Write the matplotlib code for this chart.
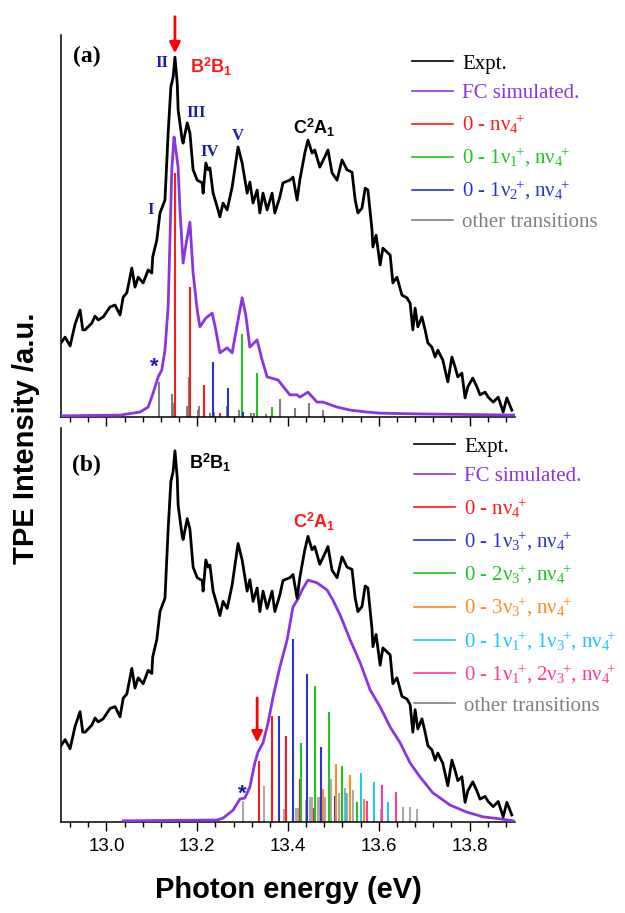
import matplotlib
matplotlib.use("Agg")
import matplotlib.pyplot as plt
from matplotlib.lines import Line2D
from matplotlib.ticker import MultipleLocator, FormatStrFormatter

plt.rcParams['mathtext.fontset'] = 'custom'
plt.rcParams['mathtext.rm'] = 'Liberation Serif'
plt.rcParams['mathtext.it'] = 'Liberation Serif:italic'
plt.rcParams['mathtext.bf'] = 'Liberation Sans:bold'

# ---------------- data (photon energy in eV, intensity in % of axis height) -------------
expt_E = [12.900, 12.909, 12.920, 12.931, 12.942, 12.948, 12.953, 12.968, 12.975, 12.982,
          12.993, 13.008, 13.019, 13.030, 13.037, 13.045, 13.056, 13.063, 13.070, 13.081,
          13.092, 13.100, 13.102, 13.111, 13.118, 13.129,
          13.136, 13.142, 13.147, 13.151, 13.156, 13.158, 13.167, 13.169, 13.178, 13.184,
          13.191, 13.200, 13.211, 13.213, 13.219, 13.224, 13.228, 13.235, 13.244, 13.250,
          13.257, 13.266, 13.277, 13.290, 13.299, 13.310, 13.316, 13.323, 13.332, 13.338,
          13.345, 13.354, 13.365, 13.371, 13.382, 13.389, 13.404, 13.411, 13.420, 13.426,
          13.437, 13.444, 13.453, 13.459, 13.470, 13.481, 13.488, 13.497, 13.508, 13.519,
          13.530, 13.541, 13.548, 13.554, 13.563, 13.570, 13.576, 13.585, 13.587, 13.594,
          13.603, 13.609, 13.625, 13.631, 13.640, 13.651, 13.662, 13.669, 13.675, 13.680,
          13.686, 13.695, 13.702, 13.708, 13.717, 13.724, 13.730, 13.741, 13.752, 13.761,
          13.768, 13.774, 13.783, 13.790, 13.796, 13.807, 13.816, 13.823, 13.834, 13.841,
          13.852, 13.863, 13.874, 13.882, 13.893]
expt_I = [19.4, 20.9, 18.6, 24.3, 28.0, 22.8, 22.8, 24.6, 26.4, 25.4,
          26.2, 28.8, 29.3, 26.7, 31.4, 32.5, 39.0, 34.0, 36.6, 35.1,
          38.5, 37.7, 41.9, 46.3, 53.4, 56.8,
          74.3, 86.4, 89.0, 94.2, 87.4, 80.4, 72.5, 71.7, 77.0, 74.3,
          64.7, 62.0, 61.3, 58.6, 66.5, 64.7, 65.2, 58.6, 55.0, 52.4,
          56.0, 54.2, 60.2, 70.7, 66.5, 58.6, 61.5, 56.0, 59.4, 53.4,
          58.6, 54.2, 58.6, 53.4, 57.6, 61.3, 62.0, 62.8, 56.8, 62.0,
          69.1, 72.5, 69.1, 69.9, 65.4, 68.1, 69.9, 63.9, 62.0, 67.3,
          64.7, 64.1, 56.8, 53.4, 54.7, 59.9, 59.4, 49.0, 44.5, 47.6,
          39.8, 44.2, 42.4, 35.1, 36.6, 31.9, 31.2, 29.8, 22.8, 28.5,
          23.6, 26.2, 22.8, 19.4, 18.3, 15.7, 17.5, 14.9, 9.2, 15.7,
          13.1, 10.5, 11.5, 5.0, 7.9, 10.2, 7.9, 5.8, 6.5, 5.2,
          3.9, 5.2, 1.3, 5.0, 1.8]

# panel (a): FC simulation of the B2B1 band
fcA_E = [12.900, 13.030, 13.074, 13.092, 13.103, 13.114, 13.122, 13.129, 13.136, 13.140,
         13.144, 13.149, 13.153, 13.158, 13.162, 13.169, 13.175, 13.184, 13.191, 13.200,
         13.206, 13.219, 13.233, 13.241, 13.250, 13.266, 13.277, 13.288, 13.299, 13.307,
         13.316, 13.332, 13.343, 13.354, 13.378, 13.404, 13.420, 13.426, 13.444, 13.464,
         13.477, 13.508, 13.537, 13.574, 13.603, 13.691, 13.900]
fcA_I = [0.3, 0.5, 1.3, 2.6, 6.3, 10.5, 12.3, 17.5, 28.8, 46.3,
         64.7, 73.3, 69.9, 65.4, 54.2, 40.3, 45.0, 51.0, 37.7, 28.0,
         23.6, 25.9, 27.2, 22.8, 16.8, 18.1, 16.8, 24.1, 31.2, 26.7,
         18.3, 20.2, 14.9, 10.5, 9.7, 5.8, 5.8, 5.2, 6.5, 3.9,
         3.9, 2.6, 1.8, 1.3, 1.0, 0.8, 0.5]

a_red_E = [13.151, 13.184, 13.215, 13.250]
a_red_I = [63.9, 34.0, 8.4, 1.0]
a_green_E = [13.299, 13.332, 13.365]
a_green_I = [21.7, 11.5, 2.6]
a_blue_E = [13.235, 13.268, 13.301]
a_blue_I = [14.4, 7.6, 1.3]
a_other_E = [13.116, 13.144, 13.149, 13.178, 13.182, 13.202, 13.204, 13.215, 13.228, 13.237,
             13.266, 13.292, 13.319, 13.325, 13.332, 13.352, 13.382, 13.415, 13.446, 13.477]
a_other_I = [9.2, 6.0, 3.7, 2.9, 10.5, 1.8, 2.9, 5.0, 1.0, 1.3,
             2.9, 1.8, 1.0, 1.0, 3.1, 0.8, 4.7, 2.4, 3.7, 1.8]

# panel (b): FC simulation of the C2A1 band
fcB_E = [13.037, 13.244, 13.257, 13.279, 13.294, 13.305, 13.316, 13.327, 13.334, 13.345,
         13.356, 13.367, 13.382, 13.398, 13.411, 13.422, 13.431, 13.444, 13.464, 13.486,
         13.499, 13.515, 13.537, 13.559, 13.581, 13.603, 13.625, 13.647, 13.669, 13.691,
         13.719, 13.757, 13.794, 13.830, 13.867, 13.896]
fcB_I = [0.3, 0.5, 1.0, 3.0, 5.8, 6.1, 8.9, 15.0, 17.8, 20.1,
         25.1, 31.7, 39.3, 46.2, 54.6, 56.6, 58.9, 61.4, 60.7, 58.9,
         56.3, 52.5, 46.2, 40.4, 33.5, 29.2, 24.1, 20.1, 15.0, 11.4,
         7.4, 4.3, 2.5, 1.3, 0.8, 0.3]

b_red_E = [13.336, 13.365, 13.396, 13.426, 13.457]
b_red_I = [15.5, 26.9, 21.8, 10.9, 3.6]
b_blue_E = [13.380, 13.411, 13.442, 13.473, 13.504]
b_blue_I = [26.9, 46.4, 37.6, 19.0, 6.6]
b_green_E = [13.429, 13.459, 13.490, 13.520, 13.551]
b_green_I = [20.1, 34.5, 27.9, 14.2, 5.1]
b_orange_E = [13.477, 13.506, 13.537, 13.567]
b_orange_I = [8.4, 14.7, 11.9, 5.8]
b_cyan_E = [13.528, 13.561, 13.589, 13.620]
b_cyan_I = [7.4, 12.4, 10.2, 5.1]
b_pink_E = [13.574, 13.607, 13.638]
b_pink_I = [5.3, 9.4, 7.6]
b_other_E = [13.301, 13.347, 13.391, 13.396, 13.418, 13.422, 13.440, 13.448, 13.453, 13.466,
             13.470, 13.481, 13.495, 13.512, 13.526, 13.530, 13.543, 13.589, 13.605, 13.653,
             13.669, 13.684]
b_other_I = [5.3, 9.1, 3.3, 6.9, 3.6, 3.6, 5.6, 6.3, 6.3, 6.3,
             6.3, 6.3, 10.9, 7.4, 8.6, 7.4, 8.1, 3.3, 3.3, 3.8,
             3.8, 3.3]

xticks = [13.0, 13.2, 13.4, 13.6, 13.8]

# ---------------- styling ----------------
C_BLACK = 'black'
C_FC = '#8b35e0'
C_RED = '#ff1a1a'
C_GREEN = '#22c322'
C_BLUE = '#2a35cc'
C_ORANGE = '#ff8a1f'
C_CYAN = '#1ec8f0'
C_PINK = '#ff3c9a'
C_GRAY_A = '#808080'
C_GRAY_B = '#aaaaaa'
C_NUM = '#1c1cb4'

SERIF = 'Liberation Serif'
SANS = 'Liberation Sans'

fig = plt.figure(figsize=(6.25, 9.13), dpi=100)
W, H = 625.0, 913.0
ax1 = fig.add_axes([61 / W, 1 - 417 / H, 454 / W, 382 / H])
ax2 = fig.add_axes([61 / W, 1 - 822 / H, 454 / W, 394 / H])

for ax in (ax1, ax2):
    ax.set_xlim(12.9, 13.9)
    ax.set_ylim(0, 100)
    ax.spines['top'].set_visible(False)
    ax.spines['right'].set_visible(False)
    ax.spines['left'].set_linewidth(1.1)
    ax.spines['bottom'].set_linewidth(1.1)
    ax.set_yticks([])
    ax.set_xticks(xticks)
    ax.xaxis.set_minor_locator(MultipleLocator(0.04))
    ax.xaxis.set_major_formatter(FormatStrFormatter('%.1f'))
    ax.tick_params(axis='x', which='major', direction='out', length=6.5, width=1.0,
                   labelsize=13.5, pad=5)
    ax.tick_params(axis='x', which='minor', direction='out', length=3.5, width=1.0)
    for lab in ax.get_xticklabels():
        lab.set_fontfamily(SANS)
ax1.tick_params(axis='x', labelbottom=False)

# ---- panel (a)
ax1.vlines(a_other_E, 0, a_other_I, colors=C_GRAY_A, lw=1.5, zorder=2)
ax1.vlines(a_red_E, 0, a_red_I, colors=C_RED, lw=1.5, zorder=2)
ax1.vlines(a_green_E, 0, a_green_I, colors=C_GREEN, lw=1.5, zorder=2)
ax1.vlines(a_blue_E, 0, a_blue_I, colors=C_BLUE, lw=1.5, zorder=2)
ax1.plot(fcA_E, fcA_I, color=C_FC, lw=2.0, zorder=3)
ax1.plot(expt_E, expt_I, color=C_BLACK, lw=2.0, zorder=4)

# ---- panel (b)
ax2.vlines(b_other_E, 0, b_other_I, colors=C_GRAY_B, lw=1.5, zorder=2)
ax2.vlines(b_red_E, 0, b_red_I, colors=C_RED, lw=1.5, zorder=2)
ax2.vlines(b_blue_E, 0, b_blue_I, colors=C_BLUE, lw=1.5, zorder=2)
ax2.vlines(b_green_E, 0, b_green_I, colors=C_GREEN, lw=1.5, zorder=2)
ax2.vlines(b_orange_E, 0, b_orange_I, colors=C_ORANGE, lw=1.5, zorder=2)
ax2.vlines(b_cyan_E, 0, b_cyan_I, colors=C_CYAN, lw=1.5, zorder=2)
ax2.vlines(b_pink_E, 0, b_pink_I, colors=C_PINK, lw=1.5, zorder=2)
ax2.plot(fcB_E, fcB_I, color=C_FC, lw=2.0, zorder=3)
ax2.plot(expt_E, expt_I, color=C_BLACK, lw=2.0, zorder=4)

# ---- annotations panel (a)
ax1.text(12.957, 94.5, '(a)', family=SERIF, weight='bold', fontsize=17,
         ha='center', va='center')
ax1.text(13.184, 91.6, r'B$^{\mathbf{2}}$B$_{\mathbf{1}}$', family=SANS, weight='bold',
         fontsize=13, color=C_RED, ha='left', va='center')
ax1.text(13.411, 75.7, r'C$^{\mathbf{2}}$A$_{\mathbf{1}}$', family=SANS, weight='bold',
         fontsize=13, color='black', ha='left', va='center')
for lab, e, y in [('I', 13.098, 54.2), ('II', 13.122, 92.7), ('III', 13.197, 79.6),
                  ('IV', 13.228, 69.4), ('V', 13.290, 73.6)]:
    ax1.text(e, y, lab, family=SERIF, weight='bold', fontsize=12, color=C_NUM,
             ha='center', va='center')
ax1.text(13.105, 13.0, '*', family=SANS, weight='bold', fontsize=16, color=C_NUM,
         ha='center', va='center')
ax1.annotate('', xy=(13.151, 94.5), xytext=(13.151, 105.5),
             arrowprops=dict(arrowstyle='-|>', color='red', lw=2, mutation_scale=16),
             annotation_clip=False)

# ---- annotations panel (b)
ax2.text(12.957, 90.6, '(b)', family=SERIF, weight='bold', fontsize=17,
         ha='center', va='center')
ax2.text(13.182, 91.1, r'B$^{\mathbf{2}}$B$_{\mathbf{1}}$', family=SANS, weight='bold',
         fontsize=13, color='black', ha='left', va='center')
ax2.text(13.411, 76.1, r'C$^{\mathbf{2}}$A$_{\mathbf{1}}$', family=SANS, weight='bold',
         fontsize=13, color=C_RED, ha='left', va='center')
ax2.text(13.299, 7.0, '*', family=SANS, weight='bold', fontsize=16, color=C_NUM,
         ha='center', va='center')
ax2.annotate('', xy=(13.332, 19.5), xytext=(13.332, 32.2),
             arrowprops=dict(arrowstyle='-|>', color='red', lw=2, mutation_scale=16))

# ---- legends
def make_legend(ax, entries, anchor, spacing):
    handles = [Line2D([], [], color=c, lw=1.2) for _, c in entries]
    labels = [l for l, _ in entries]
    leg = ax.legend(handles, labels, loc='upper left', bbox_to_anchor=anchor,
                    bbox_transform=fig.transFigure, frameon=False, borderpad=0,
                    borderaxespad=0, handlelength=1.95, handletextpad=0.45,
                    labelspacing=spacing, prop={'family': SERIF, 'size': 15},
                    labelcolor='linecolor')
    return leg

def nu(k):
    return r'ν$_{%s}\!{}^{+}$' % k

leg_a = [('Expt.', C_BLACK), ('FC simulated.', C_FC),
         ('0 - n' + nu(4), C_RED),
         ('0 - 1' + nu(1) + ', n' + nu(4), C_GREEN),
         ('0 - 1' + nu(2) + ', n' + nu(4), C_BLUE),
         ('other transitions', C_GRAY_A)]
leg_b = [('Expt.', C_BLACK), ('FC simulated.', C_FC),
         ('0 - n' + nu(4), C_RED),
         ('0 - 1' + nu(3) + ', n' + nu(4), C_BLUE),
         ('0 - 2' + nu(3) + ', n' + nu(4), C_GREEN),
         ('0 - 3' + nu(3) + ', n' + nu(4), C_ORANGE),
         ('0 - 1' + nu(1) + ', 1' + nu(3) + ', n' + nu(4), C_CYAN),
         ('0 - 1' + nu(1) + ', 2' + nu(3) + ', n' + nu(4), C_PINK),
         ('other transitions', C_GRAY_A)]
make_legend(ax1, leg_a, (412 / W, 1 - 54 / H), 0.48)
make_legend(ax2, leg_b, (414 / W, 1 - 437 / H), 0.49)

fig.text(288 / W, 1 - 890 / H, 'Photon energy (eV)', family=SANS, weight='bold',
         fontsize=21, ha='center', va='center')
fig.text(26 / W, 1 - 438 / H, 'TPE Intensity /a.u.', family=SANS, weight='bold',
         fontsize=21, ha='center', va='center', rotation=90)

fig.savefig('out.png', dpi=100)
